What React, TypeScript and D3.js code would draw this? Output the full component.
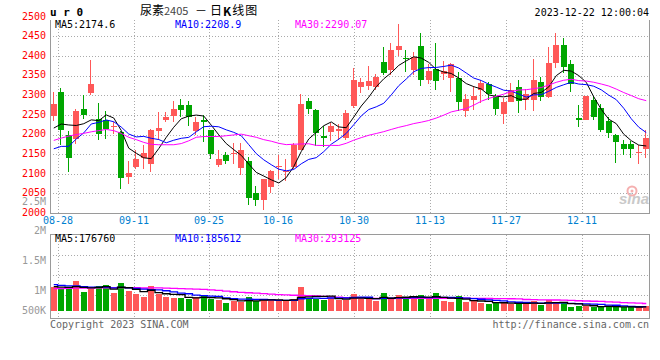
import React from "react";
import * as d3 from "d3";

const dates = [
  "08-25","08-28","08-29","08-30","08-31",
  "09-01","09-04","09-05","09-06","09-07","09-08","09-11","09-12","09-13","09-14","09-15","09-18","09-19","09-20","09-21","09-22","09-25","09-26","09-27","09-28",
  "10-09","10-10","10-11","10-12","10-13","10-16","10-17","10-18","10-19","10-20","10-23","10-24","10-25","10-26","10-27","10-30","10-31",
  "11-01","11-02","11-03","11-06","11-07","11-08","11-09","11-10","11-13","11-14","11-15","11-16","11-17","11-20","11-21","11-22","11-23","11-24","11-27","11-28","11-29","11-30",
  "12-01","12-04","12-05","12-06","12-07","12-08","12-11","12-12","12-13","12-14","12-15","12-18","12-19","12-20","12-21","12-22",
];

const openP = [
  2247.5,2309,2199.2,2190,2267,2306.8,2239.8,2237.3,2220.4,2206.8,
  2093.2,2118.7,2142.4,2127,2210.2,2237.3,2247.5,2277,2277,2209.3,
  2239,2211.9,2124.6,2148.3,2153.4,2116.1,2133,2053.4,2033.9,2067.8,
  2118.7,2105,2118.7,2162.7,2285.6,2262.7,2198.3,2207.6,2211,2193.2,
  2272.9,2322,2324.6,2322,2387.3,2366.1,2417.8,2396.6,2366,2428,
  2340.7,2368.7,2355,2345,2345,2261,2288,2313.6,2330.5,2298.3,
  2252.5,2284,2322,2288,2288,2334.8,2296.6,2383,2430.5,2381.4,
  2242.4,2239,2288,2269.5,2234.8,2199.2,2178,2178,2154.2,2164.4,
];
const closeP = [
  2279.7,2211.9,2141.5,2261,2250,2328.8,2201.7,2214.4,2222,2090.7,
  2103.4,2138.1,2155.1,2211.9,2218.7,2246.6,2267,2262.7,2245.8,2232.2,
  2234,2150.9,2139.8,2133.9,2155.1,2161,2039.8,2033.9,2087.3,2107.6,
  2120.3,2108.5,2175.4,2278,2267,2205,2193.2,2223.7,2214.4,2256.8,
  2340.7,2333.9,2336.5,2347.5,2357.6,2417.8,2428,2394,2400,2340.7,
  2362.7,2337.3,2362,2381.4,2284,2290.7,2298.3,2332.2,2305,2267,
  2284,2313.6,2286.5,2305,2340.7,2296.6,2384,2430.5,2373,2330.5,
  2239,2298.3,2245.8,2213.6,2205,2182.2,2163.6,2163.6,2157.6,2193.2,
];
const highP = [
  2309,2318.7,2209.3,2267,2303,2392.4,2281.4,2260.2,2233,2209,
  2133,2161,2173.7,2216,2258.5,2258.5,2286.5,2292.4,2286.5,2245.8,
  2250,2212,2161,2156.8,2180.5,2180.5,2144,2070.3,2089,2110,
  2148.3,2139.8,2179.7,2303.4,2295,2267,2222,2230.5,2227,2262.7,
  2371.2,2345.8,2377,2354.3,2423.8,2433.9,2483,2417,2411,2460,
  2381.4,2433.9,2388,2383,2360,2303.4,2326,2340.7,2334.8,2305,
  2295,2333,2340.7,2317.8,2394,2347.5,2423.7,2460.2,2447.5,2391.5,
  2275.4,2298.3,2298.3,2278,2245.8,2201.7,2186.5,2184,2173.7,2211.9,
];
const lowP = [
  2237,2173.7,2106,2176,2241.5,2300.9,2186.5,2189,2203,2062.7,
  2076.3,2112.7,2112.7,2106,2186.5,2233,2233,2245.8,2222,2199,
  2182.2,2139,2118.7,2125.4,2125.4,2099.2,2022.9,2019.5,2008.5,2052.5,
  2089,2083,2112.7,2161,2254,2171,2169.5,2184.8,2188,2186.5,
  2269.5,2306.8,2313.6,2313.6,2351.7,2351.7,2402.6,2360,2351.7,2326,
  2330.5,2316,2339,2309,2261,2245.8,2262.7,2281.4,2289.8,2251.7,
  2228.8,2284,2256,2262.7,2261,2286.5,2295,2371.2,2357.6,2309,
  2220.4,2239,2237.3,2207.6,2193.2,2128.8,2148.3,2141.5,2125.4,2141.5,
];
// closes of the 29 sessions before the first visible one (used by the moving averages)
const priorCloses = [
  2031.9,1991.5,2141,2160,2208.8,2111.7,2124.4,2312,2300.7,2403.4,
  2318,2365,2362,2248.7,2246.6,2267,2172.7,2035.8,1962.2,2174,
  2150.9,2139.8,2073.9,2095.1,2101,2159.8,2153.9,2267.3,2227.6,
];

const volume = [
  1034000,963000,963000,1293000,819000,963000,1063000,1106000,776000,1207000,
  862000,718000,603000,1078000,718000,603000,560000,560000,517000,603000,
  675000,532000,488000,345000,431000,388000,603000,417000,488000,488000,
  417000,488000,532000,1020000,575000,532000,488000,575000,488000,488000,
  718000,517000,517000,417000,761000,532000,675000,575000,532000,675000,
  532000,761000,417000,374000,632000,388000,417000,345000,287000,388000,
  345000,316000,287000,316000,431000,273000,460000,345000,345000,172000,
  205000,220000,185000,178000,190000,170000,172000,168000,165000,210000,
];
const priorVolumes = [
  845000,905000,815000,935000,875000,795000,965000,885000,825000,915000,
  855000,945000,805000,885000,925000,865000,835000,975000,895000,855000,
  1250000,1180000,1300000,1200000,1170000,1080000,1040000,1100000,1020000,
];

const priceTicks = [2000, 2050, 2100, 2150, 2200, 2250, 2300, 2350, 2400, 2450, 2500];
const dateTicks = ["08-28", "09-11", "09-25", "10-16", "10-30", "11-13", "11-27", "12-11"];
const volTickValues = [2500000, 2000000, 1500000, 1000000, 500000];
const volTickLabels = ["2.5M", "2M", "1.5M", "1M", "500K"];

const priceMaLabels = ["MA5:2174.6", "MA10:2208.9", "MA30:2290.07"];
const volMaLabels = ["MA5:176760", "MA10:185612", "MA30:293125"];
const maPeriods = [5, 10, 30];
const maColors = ["#000000", "#0000ff", "#ff00ff"];

const UP = "#ff5858";
const DOWN = "#00a600";
const FRAME = "#9a9a9a";
const GRID = "#aaaaaa";
const MONO = "'DejaVu Sans Mono', 'Liberation Mono', monospace";
const CJK = "'Noto Sans CJK SC', 'Noto Sans', sans-serif";

function movingAverage(series: number[], prior: number[], n: number): number[] {
  const all = prior.concat(series);
  return series.map((_, i) => {
    const end = i + prior.length + 1;
    return d3.mean(all.slice(end - n, end)) as number;
  });
}

export default function App() {
  const left = 50, right = 650;
  const x = d3.scaleBand<string>().domain(dates).range([left, right]).paddingInner(0.2).paddingOuter(0.1);
  const step = x.step();
  const xc = (i: number) => left + step * (i + 0.5);
  const bodyX = (i: number) => Math.round(left + step * i + 0.75);
  const xGrid = d3.scaleLinear().domain([0, dates.length - 1]).range([left, right]);

  const yPrice = d3.scaleLinear().domain([2000, 2500]).range([213.5, 17.3]);
  const yVol = d3.scaleLinear().domain([0, 1000000]).range([311, 287.8]);
  const yVolLabel = d3.scaleLinear().domain([2500000, 1000000]).range([201, 290.6]);
  const volGridY = d3.scaleLinear().domain([0, 4]).range([235.5, 315.5]);

  const priceMA = maPeriods.map((n) => movingAverage(closeP, priorCloses, n));
  const volMA = maPeriods.map((n) => movingAverage(volume, priorVolumes, n));

  const priceLine = d3
    .line<number>()
    .x((_, i) => xc(i))
    .y((v) => yPrice(v));
  const volLine = d3
    .line<number>()
    .x((_, i) => xc(i))
    .y((v) => yVol(v))
    .curve(d3.curveStep);

  const gridXs = dateTicks.map((d) => Math.round(xGrid(dates.indexOf(d))) + 0.5);

  return (
    <svg
      width={660}
      height={360}
      style={{ position: "absolute", left: 0, top: 0, background: "#fff" }}
    >
      <rect x={0} y={0} width={660} height={360} fill="#fff" />

      {/* header */}
      <text x={50} y={12} fontFamily={MONO} fontWeight="bold" fontSize={11} dominantBaseline="central" fill="#000">
        u r 0
      </text>
      <text x={140} y={9.5} fontFamily={CJK} fontSize={12} dominantBaseline="central" fill="#000">
        尿素<tspan fontSize={11} fill="#444">2405</tspan>
      </text>
      <text x={195} y={9.5} fontFamily={CJK} fontSize={12} dominantBaseline="central" fill="#000">
        －
      </text>
      <text x={210} y={9.5} fontFamily={CJK} fontSize={12} dominantBaseline="central" fill="#000" letterSpacing={1}>
        日<tspan fontWeight="bold">K</tspan>线图
      </text>
      <text x={649} y={12} fontFamily={MONO} fontSize={10} textAnchor="end" dominantBaseline="central" fill="#000">
        2023-12-22 12:00:04
      </text>

      {/* price grid */}
      <g shapeRendering="crispEdges">
        {priceTicks
          .filter((t) => t > 2000 && t < 2500)
          .map((t) => (
            <line
              key={"pg" + t}
              x1={left}
              x2={right - 1}
              y1={Math.floor(yPrice(t)) + 0.5}
              y2={Math.floor(yPrice(t)) + 0.5}
              stroke={GRID}
              strokeDasharray="1,2"
            />
          ))}
        {gridXs.map((gx, k) => (
          <line key={"pv" + k} x1={gx} x2={gx} y1={19.5} y2={213} stroke={GRID} strokeDasharray="1,2" />
        ))}
        {[1, 2, 3].map((k) => (
          <line
            key={"vg" + k}
            x1={left}
            x2={right - 1}
            y1={volGridY(k)}
            y2={volGridY(k)}
            stroke={GRID}
            strokeDasharray="1,2"
          />
        ))}
        {gridXs.map((gx, k) => (
          <line key={"vv" + k} x1={gx} x2={gx} y1={235} y2={318} stroke={GRID} strokeDasharray="1,2" />
        ))}
      </g>

      {/* sina watermark */}
      <g opacity={0.9}>
        <circle cx={632} cy={191} r={4.5} fill="none" stroke="#f4a8a8" strokeWidth={2} />
        <circle cx={632} cy={191} r={1.5} fill="#f4a8a8" />
        <text x={619} y={204} fontFamily="'Liberation Sans', Arial, sans-serif" fontStyle="italic" fontWeight="bold" fontSize={15} fill="#c4c4c4">
          sina
        </text>
      </g>

      {/* candles */}
      <g shapeRendering="crispEdges">
        {dates.map((d, i) => {
          const o = openP[i], c = closeP[i];
          const up = c >= o;
          const col = up ? UP : DOWN;
          const bx = bodyX(i);
          const top = Math.round(yPrice(Math.max(o, c)));
          const bot = Math.round(yPrice(Math.min(o, c)));
          return (
            <g key={"c" + d}>
              <line x1={bx + 2.5} x2={bx + 2.5} y1={yPrice(highP[i])} y2={yPrice(lowP[i])} stroke={col} strokeWidth={1} />
              <rect x={bx} y={top} width={6} height={Math.max(1, bot - top)} fill={col} />
            </g>
          );
        })}
      </g>

      {/* price MAs */}
      <g>
        {priceMA.map((ma, k) => (
          <path key={"pm" + k} d={priceLine(ma) || ""} fill="none" stroke={maColors[k]} strokeWidth={1} />
        ))}
      </g>

      {/* price frame */}
      <g shapeRendering="crispEdges" stroke={FRAME} strokeWidth={1}>
        <line x1={50.5} x2={50.5} y1={19.5} y2={213.5} />
        <line x1={649.5} x2={649.5} y1={19.5} y2={213.5} />
        <line x1={50} x2={650} y1={213.5} y2={213.5} />
      </g>

      {/* price labels */}
      {priceTicks.map((t) => (
        <text
          key={"pl" + t}
          x={46}
          y={yPrice(t) - 1.2}
          fontFamily={MONO}
          fontSize={10}
          textAnchor="end"
          dominantBaseline="central"
          fill="#ff0000"
        >
          {t}
        </text>
      ))}
      {priceMaLabels.map((s, k) => (
        <text key={"pml" + k} x={55 + 120 * k} y={24} fontFamily={MONO} fontSize={10} dominantBaseline="central" fill={maColors[k]}>
          {s}
        </text>
      ))}

      {/* date labels */}
      {dateTicks.map((d, k) => (
        <text
          key={"dl" + d}
          x={gridXs[k] - 0.5}
          y={220.5}
          fontFamily={MONO}
          fontSize={10}
          textAnchor="middle"
          dominantBaseline="central"
          fill="#0080d0"
        >
          {d}
        </text>
      ))}

      {/* volume bars */}
      <g shapeRendering="crispEdges">
        {dates.map((d, i) => {
          const up = closeP[i] >= openP[i];
          const top = Math.round(yVol(volume[i]));
          return (
            <rect
              key={"v" + d}
              x={bodyX(i)}
              y={top}
              width={6}
              height={Math.round(yVol(0)) - top}
              fill={up ? UP : DOWN}
            />
          );
        })}
      </g>

      {/* volume MAs */}
      <g>
        {volMA
          .slice()
          .reverse()
          .map((ma, kk) => {
            const k = volMA.length - 1 - kk;
            return (
              <path key={"vm" + k} d={volLine(ma) || ""} fill="none" stroke={maColors[k]} strokeWidth={1.3} />
            );
          })}
      </g>

      {/* volume frame */}
      <g shapeRendering="crispEdges" stroke={FRAME} strokeWidth={1}>
        <line x1={50} x2={650} y1={234.5} y2={234.5} />
        <line x1={50.5} x2={50.5} y1={234.5} y2={318.5} />
        <line x1={649.5} x2={649.5} y1={234.5} y2={318.5} />
        <line x1={50} x2={650} y1={318.5} y2={318.5} />
      </g>

      {/* volume labels */}
      {volTickValues.map((v, k) => (
        <text
          key={"vl" + k}
          x={46}
          y={Math.min(yVolLabel(v), 310.2)}
          fontFamily={MONO}
          fontSize={10}
          textAnchor="end"
          dominantBaseline="central"
          fill="#999999"
        >
          {volTickLabels[k]}
        </text>
      ))}
      {volMaLabels.map((s, k) => (
        <text key={"vml" + k} x={55 + 120 * k} y={238.5} fontFamily={MONO} fontSize={10} dominantBaseline="central" fill={maColors[k]}>
          {s}
        </text>
      ))}

      {/* footer */}
      <text x={50} y={324} fontFamily={MONO} fontSize={10} dominantBaseline="central" fill="#666">
        Copyright 2023 SINA.COM
      </text>
      <text x={649} y={324} fontFamily={MONO} fontSize={10} textAnchor="end" dominantBaseline="central" fill="#666">
        http://finance.sina.com.cn
      </text>
    </svg>
  );
}
